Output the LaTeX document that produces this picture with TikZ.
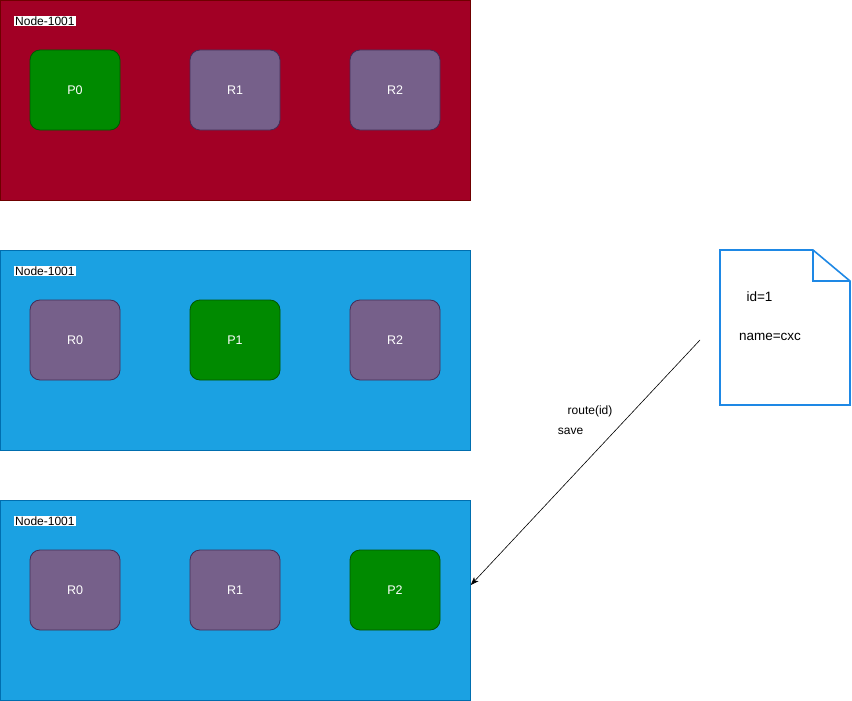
\documentclass[tikz,border=0pt]{standalone}
\usepackage{fontspec}
\setmainfont{Liberation Sans}
\usetikzlibrary{arrows.meta,calc}
\definecolor{redfill}{HTML}{A20025}
\definecolor{redline}{HTML}{6F0000}
\definecolor{bluefill}{HTML}{1BA1E2}
\definecolor{blueline}{HTML}{006EAF}
\definecolor{greenfill}{HTML}{008A00}
\definecolor{greenline}{HTML}{005700}
\definecolor{purplefill}{HTML}{76608A}
\definecolor{purpleline}{HTML}{432D57}
\definecolor{docline}{HTML}{1E88E5}
\begin{document}
\begin{tikzpicture}[x=1pt,y=-1pt,
  container/.style={draw, line width=0.8pt, minimum width=470pt, minimum height=200pt, inner sep=0pt, anchor=north west},
  redbox/.style={container, fill=redfill, draw=redline},
  bluebox/.style={container, fill=bluefill, draw=blueline},
  cell/.style={draw, line width=0.8pt, rounded corners=10pt, minimum width=90pt, minimum height=80pt, inner sep=0pt, text=white, font=\fontsize{12.5}{14}\selectfont},
  pbox/.style={cell, fill=greenfill, draw=greenline},
  rbox/.style={cell, fill=purplefill, draw=purpleline},
  tag/.style={fill=white, inner sep=1pt, anchor=west, font=\fontsize{12}{14}\selectfont},
  plain/.style={inner sep=0pt, font=\fontsize{12}{14}\selectfont},
  doctext/.style={inner sep=0pt, font=\fontsize{13.5}{16}\selectfont}]
\useasboundingbox (0,0) rectangle (852,701);
% containers
\node[redbox] (c1) at (0,0) {};
\node[bluebox] (c2) at (0,250) {};
\node[bluebox] (c3) at (0,500) {};
\node[tag] (t1) at (14,21) {Node-1001};
\node[tag] (t2) at (14,271) {Node-1001};
\node[tag] (t3) at (14,521) {Node-1001};
% row 1
\node[pbox] (p0) at (75,90) {P0};
\node[rbox] (r1a) at (235,90) {R1};
\node[rbox] (r2a) at (395,90) {R2};
% row 2
\node[rbox] (r0b) at (75,340) {R0};
\node[pbox] (p1) at (235,340) {P1};
\node[rbox] (r2b) at (395,340) {R2};
% row 3
\node[rbox] (r0c) at (75,590) {R0};
\node[rbox] (r1c) at (235,590) {R1};
\node[pbox] (p2) at (395,590) {P2};
% document
\draw[docline, line width=1.6pt, fill=white, line join=miter] (720,250) -- (813,250) -- (850,281) -- (850,405) -- (720,405) -- cycle;
\draw[docline, line width=1.6pt, line join=miter] (813,250) -- (813,281) -- (850,281);
\node[doctext] (id) at (759.5,297) {id=1};
\node[doctext] (nm) at (770,337) {name=cxc};
% arrow
\coordinate (as) at (700,340);
\coordinate (ae) at ($(c3.north east)+(0,85)$);
\draw[line width=0.6pt, -{Stealth[length=8pt,width=6pt,inset=2pt]}] (as) -- (ae);
\node[plain] (lb1) at (590,411) {route(id)};
\node[plain] (lb2) at (570.5,431) {save};
\end{tikzpicture}
\end{document}
